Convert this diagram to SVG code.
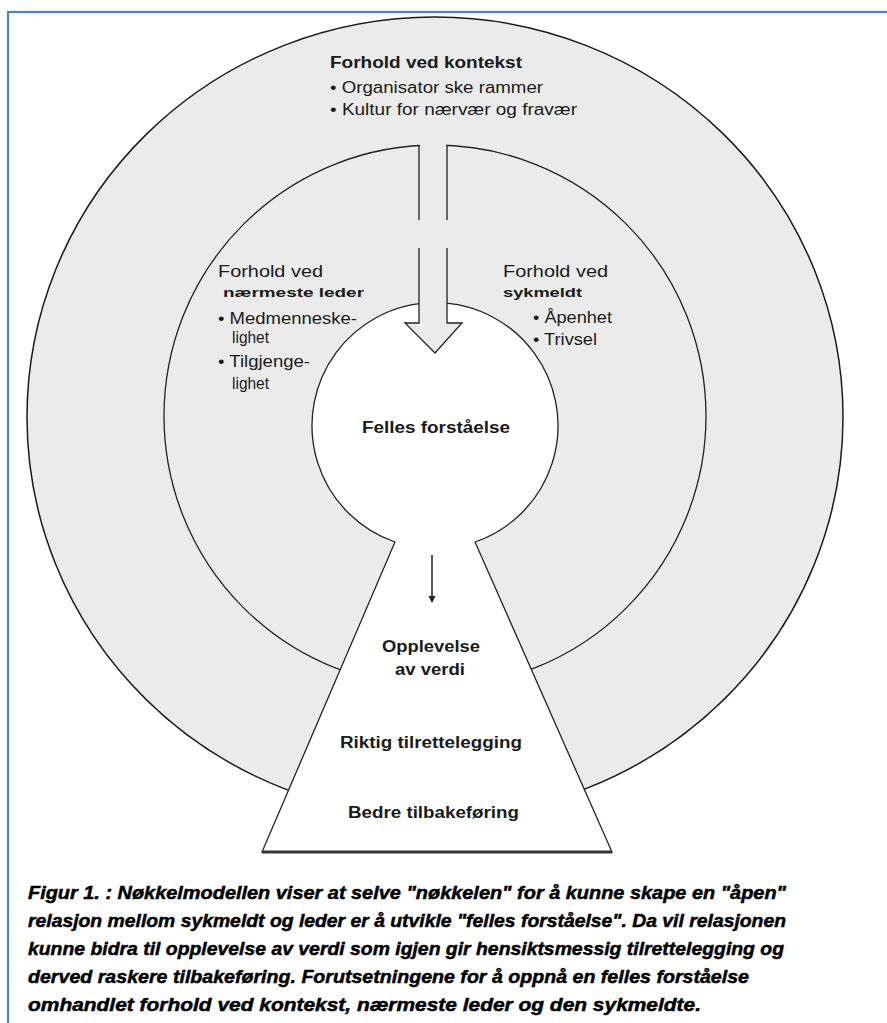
<svg xmlns="http://www.w3.org/2000/svg" width="887" height="1023" viewBox="0 0 887 1023">
<style>
.lbl{font-family:"Liberation Sans",Arial,sans-serif;fill:#1a1a1a}
.b{font-weight:bold}
.cap{font-family:"Liberation Sans",Arial,sans-serif;font-weight:bold;font-style:italic;font-size:19px;fill:#000;stroke:#000;stroke-width:0.5}
.ring{fill:#EBEBEB;stroke:#1a1a1a;stroke-width:1.5}
.thin{fill:none;stroke:#222;stroke-width:1.3}
</style>
<rect width="887" height="1023" fill="#fff"/>
<rect x="8" y="12" width="920" height="1100" fill="none" stroke="#4F81BD" stroke-width="2.2"/>
<g id="kontekst">
<ellipse class="ring" cx="435" cy="417" rx="408" ry="400"/>
<text class="lbl b" x="330" y="68" font-size="16" textLength="192" lengthAdjust="spacingAndGlyphs">Forhold ved kontekst</text>
<text class="lbl" x="330" y="93" font-size="16" textLength="213" lengthAdjust="spacingAndGlyphs">• Organisator ske rammer</text>
<text class="lbl" x="330" y="115" font-size="16" textLength="247" lengthAdjust="spacingAndGlyphs">• Kultur for nærvær og fravær</text>
</g>
<g id="relasjon">
<circle cx="435" cy="416" r="271" fill="#EBEBEB" stroke="#222" stroke-width="1.3"/>
<text class="lbl" x="218" y="277" font-size="16" textLength="105" lengthAdjust="spacingAndGlyphs">Forhold ved</text>
<text class="lbl b" x="223" y="297" font-size="12" textLength="141" lengthAdjust="spacingAndGlyphs">nærmeste leder</text>
<text class="lbl" x="218" y="324" font-size="16" textLength="139" lengthAdjust="spacingAndGlyphs">• Medmenneske-</text>
<text class="lbl" x="232" y="343" font-size="16" textLength="37" lengthAdjust="spacingAndGlyphs">lighet</text>
<text class="lbl" x="218" y="367" font-size="16" textLength="92" lengthAdjust="spacingAndGlyphs">• Tilgjenge-</text>
<text class="lbl" x="232" y="389" font-size="16" textLength="37" lengthAdjust="spacingAndGlyphs">lighet</text>
<text class="lbl" x="503" y="277" font-size="16" textLength="105" lengthAdjust="spacingAndGlyphs">Forhold ved</text>
<text class="lbl b" x="503" y="297" font-size="12" textLength="79" lengthAdjust="spacingAndGlyphs">sykmeldt</text>
<text class="lbl" x="533" y="323" font-size="16" textLength="79" lengthAdjust="spacingAndGlyphs">• Åpenhet</text>
<text class="lbl" x="533" y="345" font-size="16" textLength="64" lengthAdjust="spacingAndGlyphs">• Trivsel</text>
</g>
<g id="nokkelhull">
<path d="M395,542 A123,123 0 1 1 475,542 L612,852 L262,852 Z" fill="#fff" stroke="#222" stroke-width="1.3"/>
<line x1="262" y1="852" x2="612" y2="852" stroke="#333" stroke-width="3"/>
<text class="lbl b" x="362" y="433" font-size="16" textLength="148" lengthAdjust="spacingAndGlyphs">Felles forståelse</text>
<text class="lbl b" x="382" y="652" font-size="16" textLength="98" lengthAdjust="spacingAndGlyphs">Opplevelse</text>
<text class="lbl b" x="395" y="675" font-size="16" textLength="70" lengthAdjust="spacingAndGlyphs">av verdi</text>
<text class="lbl b" x="340" y="748" font-size="16" textLength="182" lengthAdjust="spacingAndGlyphs">Riktig tilrettelegging</text>
<text class="lbl b" x="348" y="818" font-size="16" textLength="171" lengthAdjust="spacingAndGlyphs">Bedre tilbakeføring</text>
</g>
<g id="connectors">
<rect x="419.7" y="138" width="26.6" height="170" fill="#EBEBEB"/>
<polygon points="419,296 447,296 447,323 462,323 435,353 405,323 419,323" fill="#EBEBEB"/>
<path class="thin" d="M419,145 V220 M447,145 V220 M419,248 V323 H405 L435,353 L462,323 H447 V248"/>
<line x1="432" y1="555" x2="432" y2="597" stroke="#222" stroke-width="1.5"/>
<polygon points="428.5,596 435.5,596 432,603" fill="#222"/>
</g>
<g id="caption">
<text class="cap" x="28" y="899" textLength="758" lengthAdjust="spacingAndGlyphs">Figur 1. : Nøkkelmodellen viser at selve "nøkkelen" for å kunne skape en "åpen"</text>
<text class="cap" x="28" y="927" textLength="758" lengthAdjust="spacingAndGlyphs">relasjon mellom sykmeldt og leder er å utvikle "felles forståelse". Da vil relasjonen</text>
<text class="cap" x="28" y="955" textLength="756" lengthAdjust="spacingAndGlyphs">kunne bidra til opplevelse av verdi som igjen gir hensiktsmessig tilrettelegging og</text>
<text class="cap" x="28" y="983" textLength="721" lengthAdjust="spacingAndGlyphs">derved raskere tilbakeføring. Forutsetningene for å oppnå en felles forståelse</text>
<text class="cap" x="28" y="1011" textLength="673" lengthAdjust="spacingAndGlyphs">omhandlet forhold ved kontekst, nærmeste leder og den sykmeldte.</text>
</g>
</svg>
